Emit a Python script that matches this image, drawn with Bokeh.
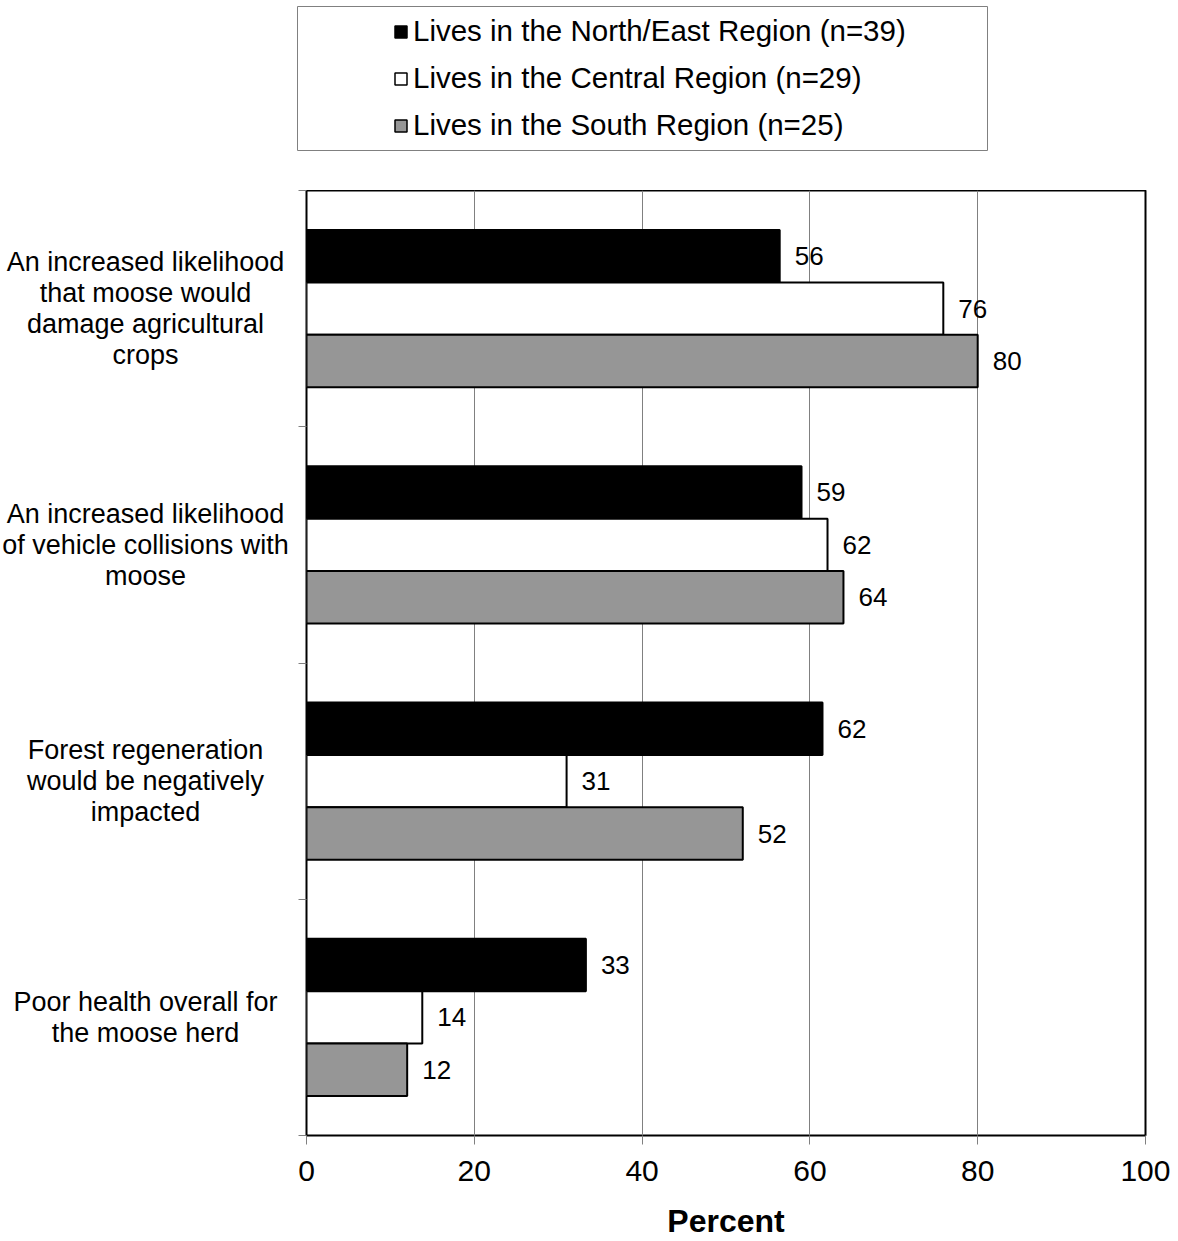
from bokeh.plotting import figure
from bokeh.models import (ColumnDataSource, LabelSet, Legend, LegendItem, Range1d,
                          FixedTicker)
from bokeh.layouts import column, row
from bokeh.core.properties import value
from bokeh.embed import file_html
from bokeh.resources import INLINE

categories = [
    "An increased likelihood\nthat moose would\ndamage agricultural\ncrops",
    "An increased likelihood\nof vehicle collisions with\nmoose",
    "Forest regeneration\nwould be negatively\nimpacted",
    "Poor health overall for\nthe moose herd",
]
series_names = [
    "Lives in the North/East Region (n=39)",
    "Lives in the Central Region (n=29)",
    "Lives in the South Region (n=25)",
]
north_east = [56.4, 59.0, 61.5, 33.3]
central = [75.9, 62.1, 31.0, 13.8]
south = [80.0, 64.0, 52.0, 12.0]
series_values = [north_east, central, south]
series_colors = ["#000000", "#ffffff", "#969696"]
x_ticks = [0, 20, 40, 60, 80, 100]

FONT = "Liberation Sans"
n_cat = len(categories)
bar_h = 0.222
TOTAL_W = 1170
LABEL_W = 294
LINE_PX = 31
MAIN_H = 1051
BOTTOM = 104

shared_y = Range1d(start=n_cat, end=0)

# ---------------- main plot ----------------
p = figure(width=TOTAL_W - LABEL_W, height=MAIN_H, output_backend="svg",
           toolbar_location=None, x_range=Range1d(0, 100), y_range=shared_y,
           min_border_left=12, min_border_right=25, min_border_top=0,
           min_border_bottom=BOTTOM)
p.outline_line_color = "black"
p.outline_line_width = 2
p.background_fill_color = "white"
p.border_fill_color = "white"

sources = []
for j, (vals, col) in enumerate(zip(series_values, series_colors)):
    ys = [i + 0.5 + (j - 1) * bar_h for i in range(n_cat)]
    src = ColumnDataSource(dict(y=ys, right=vals, lab=[str(int(round(v))) for v in vals]))
    sources.append(src)
    p.hbar(y="y", left=0, right="right", height=bar_h, source=src,
           fill_color=col, line_color="black", line_width=2)
    p.add_layout(LabelSet(x="right", y="y", text="lab", source=src, x_offset=15,
                          text_baseline="middle", text_align="left",
                          text_font=value(FONT), text_font_size="26px",
                          text_color="black"))

p.xaxis.ticker = FixedTicker(ticks=x_ticks)
p.xaxis.axis_line_color = None
p.xaxis.major_tick_line_color = "#808080"
p.xaxis.major_tick_out = 9
p.xaxis.major_tick_in = 0
p.xaxis.minor_tick_line_color = None
p.xaxis.major_label_text_font = FONT
p.xaxis.major_label_text_font_size = "30px"
p.xaxis.major_label_text_color = "black"
p.xaxis.major_label_text_line_height = 1.0
p.xaxis.major_label_standoff = 16
p.xaxis.axis_label = "Percent"
p.xaxis.axis_label_text_font = FONT
p.xaxis.axis_label_text_font_size = "32px"
p.xaxis.axis_label_text_font_style = "bold"
p.xaxis.axis_label_text_color = "black"
p.xaxis.axis_label_text_line_height = 1.0
p.xaxis.axis_label_standoff = 19

y_ticks = list(range(n_cat + 1))
p.yaxis.ticker = FixedTicker(ticks=y_ticks)
p.yaxis.axis_line_color = None
p.yaxis.major_tick_line_color = "#808080"
p.yaxis.major_tick_out = 8
p.yaxis.major_tick_in = 0
p.yaxis.minor_tick_line_color = None
p.yaxis.major_label_overrides = {t: "" for t in y_ticks}
p.yaxis.major_label_standoff = 0

p.xgrid.ticker = FixedTicker(ticks=x_ticks)
p.xgrid.grid_line_color = "#808080"
p.xgrid.grid_line_width = 1
p.ygrid.grid_line_color = None

# ---------------- category labels (one centred text per line) ----------------
lab_fig = figure(width=LABEL_W, height=MAIN_H, output_backend="svg", toolbar_location=None,
                 x_range=Range1d(0, 1), y_range=shared_y,
                 x_axis_location=None, y_axis_location=None,
                 min_border_left=0, min_border_right=0, min_border_top=0,
                 min_border_bottom=BOTTOM)
lab_fig.outline_line_color = None
lab_fig.grid.grid_line_color = None
ly, lt, loff = [], [], []
for i, cat in enumerate(categories):
    lines = cat.split("\n")
    n = len(lines)
    for k, line in enumerate(lines):
        ly.append(i + 0.5)
        lt.append(line)
        loff.append(((n - 1) / 2 - k) * LINE_PX)
cat_src = ColumnDataSource(dict(y=ly, text=lt, yoff=loff, x=[145] * len(lt)))
lab_fig.add_layout(LabelSet(x="x", y="y", text="text", source=cat_src, x_units="screen",
                            y_offset="yoff", text_align="center", text_baseline="middle",
                            text_font=value(FONT), text_font_size="27px",
                            text_color="black"))

# ---------------- legend ----------------
leg_fig = figure(width=TOTAL_W, height=190, output_backend="svg", toolbar_location=None,
                 x_range=Range1d(0, 1), y_range=Range1d(0, 1),
                 x_axis_location=None, y_axis_location=None,
                 min_border_left=297, min_border_right=TOTAL_W - 987,
                 min_border_top=6, min_border_bottom=40)
leg_fig.outline_line_color = "#808080"
leg_fig.outline_line_width = 1
leg_fig.grid.grid_line_color = None
items = []
for name, col, src in zip(series_names, series_colors, sources):
    r = leg_fig.hbar(y="y", right="right", left=0, height=bar_h, source=src,
                     fill_color=col, line_color="black", line_width=1.5, visible=False)
    items.append(LegendItem(label=name, renderers=[r]))
legend = Legend(items=items, location=(96, 8), orientation="vertical",
                label_text_font=FONT, label_text_font_size="29.5px",
                label_text_color="black", glyph_width=15, glyph_height=15,
                label_standoff=5, label_height=32, spacing=13, padding=0, margin=0,
                border_line_color=None, background_fill_alpha=0,
                inactive_fill_alpha=0)
leg_fig.add_layout(legend, "center")

layout = column(leg_fig, row(lab_fig, p))
open("out.html", "w").write(file_html(layout, INLINE))
